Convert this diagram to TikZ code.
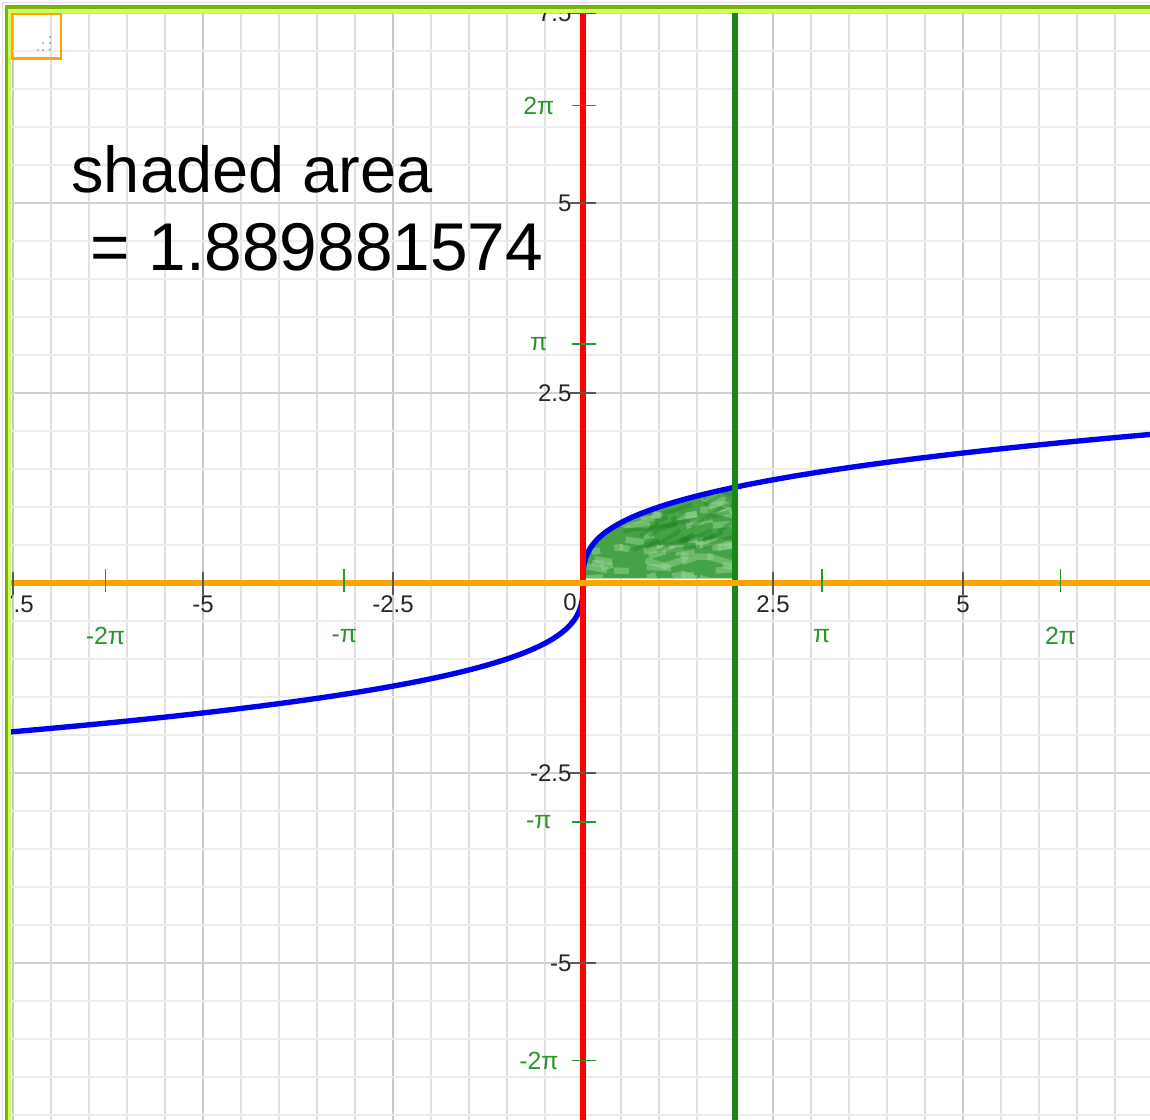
\documentclass[tikz,border=0pt]{standalone}
\usepackage{fontspec}
\setmainfont{Liberation Sans}
\definecolor{framedark}{RGB}{122,182,0}
\definecolor{framelight}{RGB}{204,255,102}
\definecolor{vminor}{RGB}{224,224,224}
\definecolor{vmajor}{RGB}{200,200,200}
\definecolor{hminor}{RGB}{236,236,236}
\definecolor{hmajor}{RGB}{210,210,210}
\definecolor{axisred}{RGB}{255,0,0}
\definecolor{axisorange}{RGB}{255,165,0}
\definecolor{linegreen}{RGB}{24,134,24}
\definecolor{labgreen}{RGB}{40,150,40}
\definecolor{curveblue}{RGB}{0,0,240}
\definecolor{shadegreen}{RGB}{70,162,70}
\definecolor{shadelight}{RGB}{150,212,150}
\definecolor{shadedark}{RGB}{30,130,30}
\tikzset{
  gridv/.style={vminor, line width=1pt},
  gridvmaj/.style={vmajor, line width=1pt},
  gridh/.style={hminor, line width=1pt},
  gridhmaj/.style={hmajor, line width=1pt},
  ticklab/.style={font=\fontsize{9}{11}\selectfont, text=black!85, inner sep=0pt},
  pilab/.style={font=\fontsize{9.3}{11}\selectfont, text=labgreen, inner sep=0pt},
  blacktick/.style={black!65, line width=0.6pt},
  greentick/.style={labgreen, line width=0.7pt},
  bigtext/.style={text=black, inner sep=0pt, anchor=base west}
}
\begin{document}
\begin{tikzpicture}[x=1cm,y=1cm]
\useasboundingbox (-7.671,-7.066) rectangle (7.461,7.671);
\fill[white] (-7.671,-7.066) rectangle (7.461,7.671);
\begin{scope}
\clip (-7.526,-7.066) rectangle (7.461,7.500);
% grid
\foreach \i in {-16,...,15}{
  \pgfmathtruncatemacro\m{mod(abs(\i),5)}
  \ifnum\m=0
    \draw[gridvmaj] ({\i*0.5},-7.2) -- ({\i*0.5},7.7);
  \else
    \draw[gridv] ({\i*0.5},-7.2) -- ({\i*0.5},7.7);
  \fi
}
\foreach \i in {-15,...,16}{
  \pgfmathtruncatemacro\m{mod(abs(\i),5)}
  \ifnum\m=0
    \draw[gridhmaj] (-7.7,{\i*0.5}) -- (7.5,{\i*0.5});
  \else
    \draw[gridh] (-7.7,{\i*0.5}) -- (7.5,{\i*0.5});
  \fi
}
% shaded area
\begin{scope}
\clip (0,0.06) -- plot[domain=0.39:1.26,samples=60] ({\x^3},\x) -- (2,0.06) -- cycle;
\fill[shadegreen] (0,0) rectangle (2,1.3);
\pgfmathsetseed{7}
\foreach \i in {1,...,80}{
  \pgfmathsetmacro\xa{rnd*2}
  \pgfmathsetmacro\ya{rnd*1.2}
  \pgfmathsetmacro\ang{rand*20}
  \pgfmathsetmacro\len{0.1+rnd*0.3}
  \draw[line width=2.4pt, shadelight, opacity=0.5] (\xa,\ya) -- ++(\ang:\len);
}
\foreach \i in {1,...,50}{
  \pgfmathsetmacro\xa{rnd*2}
  \pgfmathsetmacro\ya{0.4+rnd*0.9}
  \pgfmathsetmacro\ang{20+rand*15}
  \pgfmathsetmacro\len{0.15+rnd*0.35}
  \draw[line width=1.5pt, shadedark, opacity=0.4] (\xa,\ya) -- ++(\ang:\len);
}
\end{scope}
% curve y = cbrt(x)
\draw[curveblue, line width=2pt] plot[domain=-1.98:1.96, samples=240] ({\x^3},{\x});
% axes
\draw[axisred, line width=2.2pt] (0,-7.2) -- (0,7.7);
\draw[linegreen, line width=1.9pt] (2,-7.2) -- (2,7.7);
\draw[axisorange, line width=2.2pt] (-7.7,0) -- (7.5,0);
% black ticks and labels on x-axis
\foreach \v/\t in {-7.5/-7.5,-5/-5,-2.5/-2.5,2.5/2.5,5/5}{
  \draw[blacktick] (\v,0.145) -- (\v,-0.16);
  \node[ticklab] (xl\t) at (\v,-0.276) {\t};
}
\node[ticklab] (xl0) at (-0.17,-0.25) {0};
% pi ticks on x-axis
\foreach \k in {-2,-1,1,2}{
  \draw[greentick] ({\k*pi},0.18) -- ({\k*pi},-0.12);
}
\node[pilab] (xpm2) at ({-2*pi},-0.697) {-2π};
\node[pilab] (xpm1) at ({-pi},-0.697) {-π};
\node[pilab] (xpp1) at ({pi},-0.697) {π};
\node[pilab] (xpp2) at ({2*pi},-0.697) {2π};
% black ticks and labels on y-axis
\foreach \v/\t in {7.5/7.5,5/5,2.5/2.5,-2.5/-2.5,-5/-5}{
  \draw[blacktick] (-0.17,\v) -- (0.17,\v);
  \node[ticklab, anchor=east] (yl\t) at (-0.145,\v) {\t};
}
% pi ticks on y-axis
\foreach \k in {-2,-1,1,2}{
  \draw[greentick] (-0.145,{\k*pi}) -- (0.17,{\k*pi});
}
\node[pilab] (ypp2) at (-0.58,{2*pi}) {2π};
\node[pilab] (ypp1) at (-0.58,{pi}) {π};
\node[pilab] (ypm1) at (-0.58,{-pi}) {-π};
\node[pilab] (ypm2) at (-0.58,{-2*pi}) {-2π};
% big text
\node[bigtext, font=\fontsize{24.3}{28}\selectfont] (t1) at (-6.737,5.132) {shaded area};
\node[bigtext, font=\fontsize{25.3}{28}\selectfont] (t2) at (-6.49,4.118) {= 1.889881574};
\end{scope}
% frame
\draw[black!12, line width=0.4pt] (-7.64,-7.1) -- (-7.64,7.64) -- (7.5,7.64);
\fill[framedark] (-7.605,7.553) rectangle (7.5,7.605);
\fill[framelight] (-7.566,7.500) rectangle (7.5,7.553);
\fill[framedark] (-7.605,-7.1) rectangle (-7.566,7.605);
\fill[framelight] (-7.566,-7.1) rectangle (-7.526,7.553);
% resize grip box
\draw[axisorange, line width=1.1pt] (-7.513,7.487) rectangle (-6.868,6.895);
\foreach \p/\q in {-7.013/7.184,-7.105/7.105,-7.013/7.105,-7.171/7.013,-7.105/7.013,-7.013/7.013}{
  \fill[gray] (\p,\q) circle (0.012);
}
\end{tikzpicture}
\end{document}
